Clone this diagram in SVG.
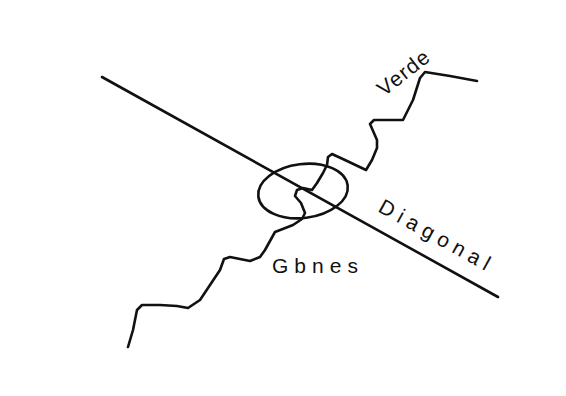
<svg xmlns="http://www.w3.org/2000/svg" width="566" height="396" viewBox="0 0 566 396">
<style>
.ink{fill:none;stroke:#111;stroke-width:2.6;stroke-linecap:round;stroke-linejoin:round}
.hand{font-family:"Liberation Sans","DejaVu Sans",sans-serif;fill:#111;font-size:21px}
</style>
<rect width="566" height="396" fill="#fff"/>
<g id="diagonal-line">
<path class="ink" d="M102,77 Q300,186 498,297"/>
</g>
<g id="ellipse">
<ellipse class="ink" cx="303" cy="191" rx="45" ry="27" transform="rotate(-7 303 191)"/>
</g>
<g id="wiggle">
<path class="ink" stroke-width="2.2" d="M128,347 L133,330 L137,310 L142,305 L160,305 L177,306 L188,308 L200,300 L210,285 L220,270 L224,259 L230,257 L250,261 L260,257 L265,250 L275,232 L293,225 L302,219 L305,213 L301,203 L295,196 L297,190 L303,188 L312,190 L317,183 L323,173 L327,165 L328,157 L332,154 L345,160 L366,170 L372,160 L377,148 L377,140 L370,124 L374,120 L403,120 L413,100 L420,78 L425,72 L450,76 L477,81"/>
</g>
<g id="labels">
<text class="hand" transform="translate(384,97) rotate(-38)" textLength="60">Verde</text>
<text class="hand" x="272" y="273" textLength="86">Gbnes</text>
<text class="hand" transform="translate(377,211) rotate(29)" textLength="124">Diagonal</text>
</g>
</svg>
